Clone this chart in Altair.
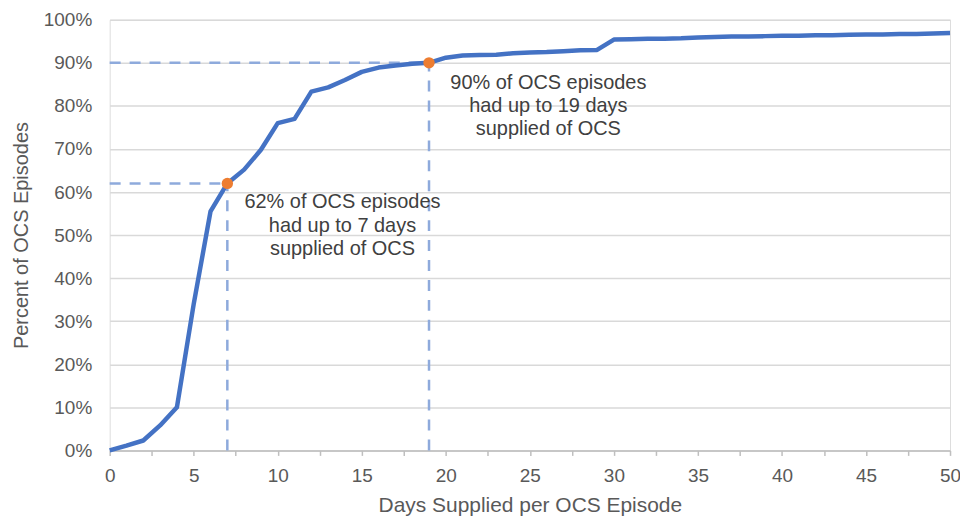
import altair as alt
import pandas as pd

days = list(range(0, 51))
pct = [0, 1.1, 2.3, 5.8, 10.0, 34.0, 55.5, 62.0, 65.2, 69.8,
       76.0, 77.0, 83.3, 84.3, 86.0, 87.9, 88.9, 89.4, 89.8, 90.0,
       91.2, 91.7, 91.8, 91.9, 92.2, 92.4, 92.5, 92.7, 92.9, 93.0,
       95.4, 95.5, 95.6, 95.6, 95.7, 95.9, 96.0, 96.1, 96.1, 96.2,
       96.3, 96.3, 96.4, 96.4, 96.5, 96.6, 96.6, 96.7, 96.7, 96.8,
       96.9]

mark_days = [7, 19]
mark_pct = [62, 90]

note_x = [13.85, 26.1]
note_y = [57.6, 85.4]
note_text = [
    "62% of OCS episodes\nhad up to 7 days\nsupplied of OCS",
    "90% of OCS episodes\nhad up to 19 days\nsupplied of OCS",
]

x_ticks = [i * 2.5 for i in range(21)]
y_ticks = list(range(0, 101, 10))

FONT = "Liberation Sans"
BLUE = "#4472C4"
ORANGE = "#ED7D31"
DASH = "#8EAADC"

df = pd.DataFrame({"day": days, "pct": pct})
marks = pd.DataFrame({"day": mark_days, "pct": mark_pct, "zero_x": [0, 0], "zero_y": [0, 0]})
notes = pd.DataFrame({"x": note_x, "y": note_y, "t": [t.split("\n") for t in note_text]})

xscale = alt.Scale(domain=[0, 50], nice=False)
yscale = alt.Scale(domain=[0, 100], nice=False)

xaxis = alt.Axis(
    values=x_ticks,
    labelExpr="datum.value % 5 == 0 ? datum.label : ''",
    labelFlush=False,
    title="Days Supplied per OCS Episode",
    grid=False,
    domainColor="#BFBFBF", domainWidth=1.5,
    tickColor="#BFBFBF", tickWidth=1.5,
    tickSize=5,
    labelFont=FONT, labelFontSize=19, labelColor="#595959", labelPadding=11,
    titleFont=FONT, titleFontSize=21, titleColor="#595959", titleFontWeight="normal",
    titlePadding=9,
)
yaxis = alt.Axis(
    values=y_ticks,
    labelExpr="datum.value + '%'",
    title="Percent of OCS Episodes",
    grid=True, gridColor="#D9D9D9", gridWidth=1.5,
    domain=False, ticks=False,
    labelFont=FONT, labelFontSize=19, labelColor="#595959", labelPadding=18,
    titleFont=FONT, titleFontSize=20, titleColor="#595959", titleFontWeight="normal",
    titlePadding=12,
)

base_x = alt.X("day:Q", scale=xscale, axis=xaxis)
base_y = alt.Y("pct:Q", scale=yscale, axis=yaxis)

line = alt.Chart(df).mark_line(color=BLUE, strokeWidth=4.5, strokeJoin="round").encode(
    x=base_x, y=base_y
)

hdash = alt.Chart(marks).mark_rule(color=DASH, strokeWidth=2.5, strokeDash=[11, 9]).encode(
    x=alt.X("zero_x:Q", scale=xscale), x2="day:Q", y=alt.Y("pct:Q", scale=yscale)
)
vdash = alt.Chart(marks).mark_rule(color=DASH, strokeWidth=2.5, strokeDash=[11, 9]).encode(
    x=alt.X("day:Q", scale=xscale), y=alt.Y("zero_y:Q", scale=yscale), y2="pct:Q"
)
pts = alt.Chart(marks).mark_point(filled=True, color=ORANGE, size=130, opacity=1).encode(
    x=alt.X("day:Q", scale=xscale), y=alt.Y("pct:Q", scale=yscale)
)
txt = alt.Chart(notes).mark_text(
    font=FONT, fontSize=20, color="#404040", align="center", baseline="middle", lineHeight=23.5
).encode(
    x=alt.X("x:Q", scale=xscale), y=alt.Y("y:Q", scale=yscale), text="t"
)

chart = alt.layer(hdash, vdash, line, pts, txt).properties(
    width=843, height=432,
    autosize=alt.AutoSizeParams(type="none"),
    padding={"left": 102, "top": 11, "right": 10, "bottom": 66},
).configure_view(stroke=None).configure(background="white")

chart.save("out.html", embed_options={"renderer": "svg", "actions": False})
